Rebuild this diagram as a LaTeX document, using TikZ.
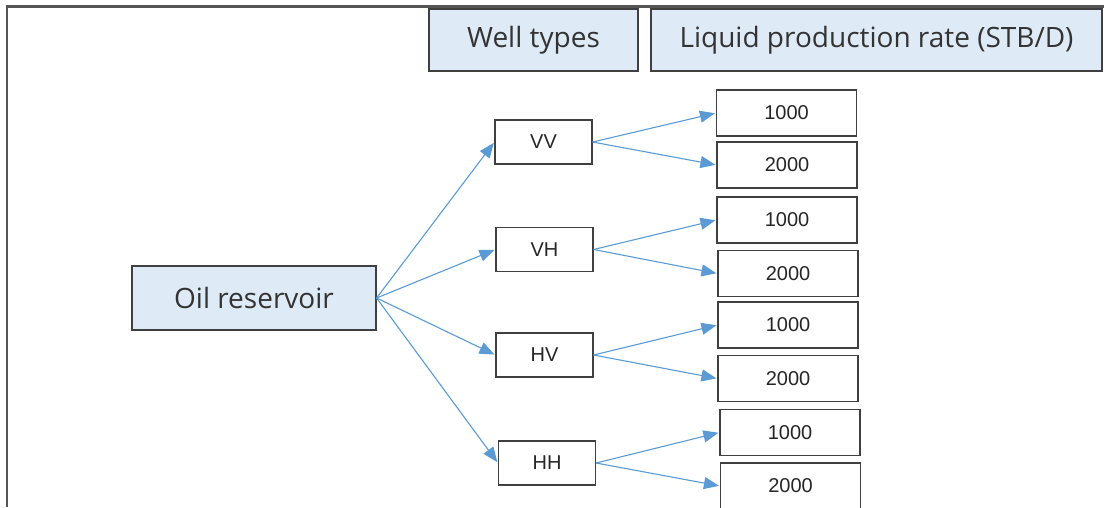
\documentclass[tikz,border=0pt]{standalone}
\usepackage{fontspec}
\setmainfont{Liberation Sans}
\newfontfamily\hdfont{Open Sans}
\usetikzlibrary{arrows.meta}
\definecolor{boxfill}{HTML}{DEEAF6}
\definecolor{boxdraw}{HTML}{404040}
\definecolor{arrowc}{HTML}{5B9BD5}
\definecolor{framec}{HTML}{555555}
\begin{document}
\begin{tikzpicture}[x=1pt,y=-1pt,
  hdbox/.style={draw=boxdraw, fill=boxfill, line width=1.2pt, inner sep=0pt,
    font=\hdfont\fontsize{28}{33}\selectfont, text=black!80},
  wbox/.style={draw=boxdraw, fill=white, line width=1.2pt, inner sep=0pt,
    font=\fontsize{20}{24}\selectfont, text=black!85,
    minimum width=97pt, minimum height=44pt},
  rbox/.style={draw=boxdraw, fill=white, line width=1.2pt, inner sep=0pt,
    font=\fontsize{20}{24}\selectfont, text=black!85,
    minimum width=140pt, minimum height=46pt},
  conn/.style={draw=arrowc, line width=1.1pt, shorten >=1pt,
    -{Triangle[length=15pt,width=12pt]}}]
\clip (0,0) rectangle (1104,507);
\fill[white] (0,0) rectangle (1104,507);
\draw[framec, line width=2.2pt] (7,507) -- (7,6.5) -- (1104,6.5);
% headers
\node[hdbox, minimum width=209pt, minimum height=62pt] (wt) at (533.5,40) {Well types};
\node[hdbox, minimum width=451pt, minimum height=62pt] (lp) at (876.5,40) {Liquid production rate (STB/D)};
\node[hdbox, minimum width=244pt, minimum height=64pt] (oil) at (254,298) {Oil reservoir};
% well types
\node[wbox] (vv) at (543.5,142) {VV};
\node[wbox] (vh) at (544.5,249.5) {VH};
\node[wbox] (hv) at (544.5,355) {HV};
\node[wbox] (hh) at (547,463) {HH};
% rates
\node[rbox] (vv1) at (786.5,113) {1000};
\node[rbox] (vv2) at (787,165) {2000};
\node[rbox] (vh1) at (787,220) {1000};
\node[rbox] (vh2) at (788,273.5) {2000};
\node[rbox] (hv1) at (788,325) {1000};
\node[rbox] (hv2) at (788,378.5) {2000};
\node[rbox] (hh1) at (790,432.5) {1000};
\node[rbox] (hh2) at (790.5,486) {2000};
% connectors
\foreach \w in {vv,vh,hv,hh}{
  \draw[conn] (oil.east) -- (\w.west);
  \draw[conn] (\w.east) -- (\w1.west);
  \draw[conn] (\w.east) -- (\w2.west);
}
\end{tikzpicture}
\end{document}
